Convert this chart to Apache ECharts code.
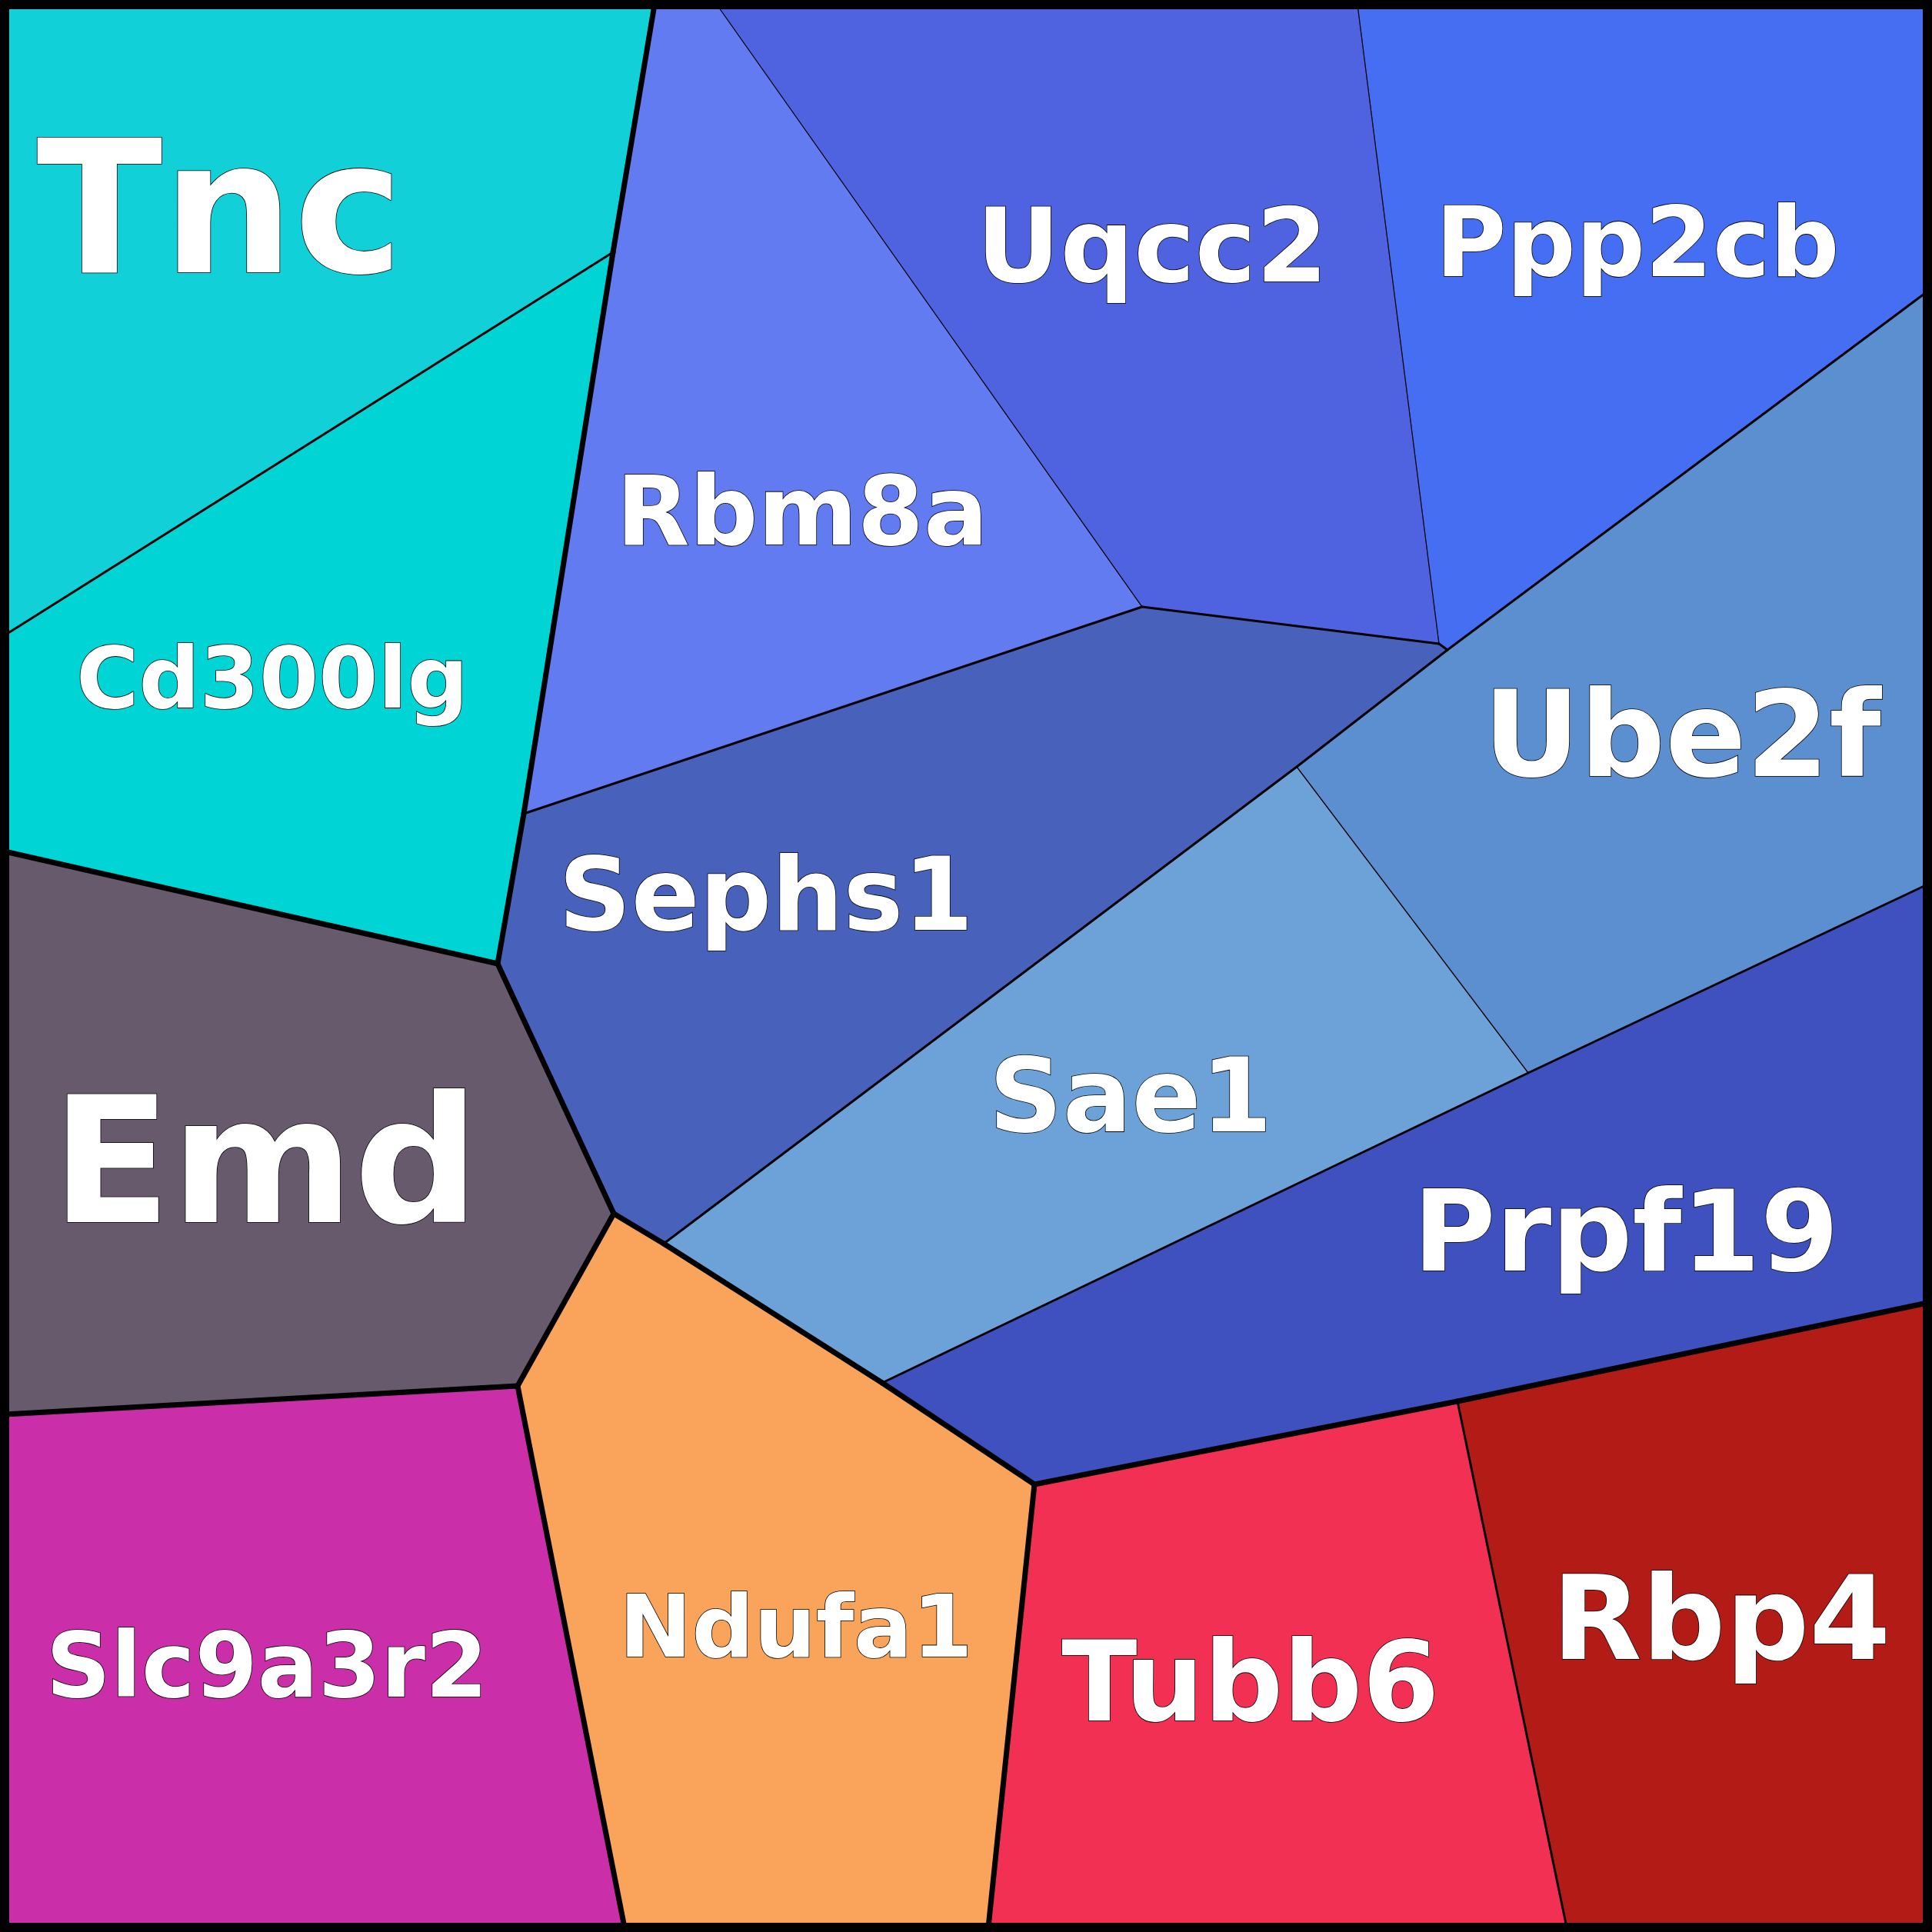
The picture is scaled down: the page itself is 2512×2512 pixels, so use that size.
<!DOCTYPE html>
<html><head><meta charset="utf-8">
<script src="https://cdn.jsdelivr.net/npm/echarts@6/dist/echarts.min.js"></script>
<style>html,body{margin:0;padding:0;background:#fff}#c{width:2512px;height:2512px}</style>
</head><body><div id="c"></div>
<script>
// ---- data ----
const cellNames = ['Tnc','Cd300lg','Rbm8a','Uqcc2','Ppp2cb','Sephs1','Ube2f','Sae1','Prpf19','Emd','Slc9a3r2','Ndufa1','Tubb6','Rbp4'];
const topGroup  = [0,0,1,1,1,1,1,1,1,2,3,4,5,5];
const subGroup  = [0,1,2,2,2,3,4,4,5,6,7,8,9,10];
// Voronoi vertices in data space (0..2512, y downward)
const points = {
  TL:[6,6], TR:[2506,6], BR:[2506,2506], BL:[6,2506],
  A:[851,6], B:[797,328], D:[6,826], E:[6,1107], F:[647,1253], G:[681,1058],
  H:[1485,789], I:[1871,837], J:[1882,845], K:[1765,6], L:[932,6],
  M:[2506,379], N:[2506,1150], O:[1686,997], P:[1987,1395], Q:[798,1578],
  R:[863,1617], S:[1147,1798], T:[1345,1930], U:[1895,1822], V:[2506,1694],
  W:[812,2506], X:[1285,2506], Y:[2037,2506], Z:[673,1802], AA:[6,1839]
};
const cellVertices = [
  ['TL','A','B','D'],
  ['D','B','G','F','E'],
  ['A','L','H','G','B'],
  ['L','K','I','H'],
  ['K','TR','M','J','I'],
  ['G','H','I','J','O','R','Q','F'],
  ['J','M','N','P','O'],
  ['O','P','S','R'],
  ['P','N','V','U','T','S'],
  ['E','F','Q','Z','AA'],
  ['AA','Z','W','BL'],
  ['Q','R','S','T','X','W','Z'],
  ['T','U','Y','X'],
  ['U','V','BR','Y']
];
const labelX = [286,354,1043,1498,2129,996,2187,1470,2114,345,347,1035,1626,2238];
const labelY = [268,880,663,318,314,1162,953,1423,1599,1507,2164,2113,2185,2102];

// ---- styles ----
const cellColors = ['#12D0D8','#00D4D4','#627BF0','#4F62E0','#466EF3','#4862BC','#5C8FD0','#6CA2D8','#3F51BF','#675A6C','#CB2EA9','#F9A45A','#F23054','#B31B16'];
const labelSizes = [240,111,124,134,126,131,155,133,147,228,117,113,144,152];
const edgeWidths = [1.3,3,7];

// ---- edges derived from shared polygon sides ----
const edgeMap = new Map();
cellVertices.forEach((vs, ci) => {
  vs.forEach((a, k) => {
    const b = vs[(k + 1) % vs.length];
    const key = a < b ? a + '|' + b : b + '|' + a;
    if (!edgeMap.has(key)) edgeMap.set(key, {a, b, owners: []});
    edgeMap.get(key).owners.push(ci);
  });
});
const edges = [];
edgeMap.forEach(e => {
  if (e.owners.length < 2) return;
  const c1 = e.owners[0], c2 = e.owners[1];
  const level = topGroup[c1] !== topGroup[c2] ? 2 : (subGroup[c1] !== subGroup[c2] ? 1 : 0);
  edges.push([points[e.a][0], points[e.a][1], points[e.b][0], points[e.b][1], level]);
});
edges.sort((p, q) => p[4] - q[4]);

const chart = echarts.init(document.getElementById('c'), null, {renderer: 'canvas'});
chart.setOption({
  animation: false,
  backgroundColor: '#ffffff',
  grid: {left: 0, right: 0, top: 0, bottom: 0},
  xAxis: {type: 'value', min: 0, max: 2512, show: false},
  yAxis: {type: 'value', min: 0, max: 2512, inverse: true, show: false},
  series: [
    {
      type: 'custom', clip: false, z: 1,
      data: cellNames.map((n, i) => ({name: n, value: [i, 0]})),
      renderItem: function (params, api) {
        const i = api.value(0);
        const pts = cellVertices[i].map(id => api.coord(points[id]));
        return {type: 'polygon', shape: {points: pts}, style: {fill: cellColors[i], stroke: cellColors[i], lineWidth: 0.5}};
      }
    },
    {
      type: 'custom', clip: false, z: 2,
      data: edges,
      renderItem: function (params, api) {
        const p1 = api.coord([api.value(0), api.value(1)]);
        const p2 = api.coord([api.value(2), api.value(3)]);
        const lv = api.value(4);
        return {type: 'line', shape: {x1: p1[0], y1: p1[1], x2: p2[0], y2: p2[1]},
          style: {stroke: '#000', lineWidth: edgeWidths[lv], lineCap: 'round'}};
      }
    },
    {
      type: 'custom', clip: false, z: 3,
      data: [[points.TL[0], points.TL[1], points.BR[0], points.BR[1]]],
      renderItem: function (params, api) {
        const p1 = api.coord([api.value(0), api.value(1)]);
        const p2 = api.coord([api.value(2), api.value(3)]);
        return {type: 'rect', shape: {x: p1[0], y: p1[1], width: p2[0] - p1[0], height: p2[1] - p1[1]},
          style: {fill: 'none', stroke: '#000', lineWidth: 12}};
      }
    },
    {
      type: 'custom', clip: false, z: 4,
      data: labelX.map((x, i) => [x, labelY[i], i]),
      renderItem: function (params, api) {
        const i = api.value(2);
        const p = api.coord([api.value(0), api.value(1)]);
        const fs = labelSizes[i];
        return {type: 'text', x: p[0], y: p[1] + 0.1 * fs,
          style: {text: cellNames[i], fill: '#ffffff', stroke: '#000000', lineWidth: 1.6,
            font: 'bold ' + fs + 'px "DejaVu Sans"',
            align: 'center', verticalAlign: 'middle', textAlign: 'center', textVerticalAlign: 'middle',
            shadowColor: 'rgba(0,0,0,0.55)', shadowOffsetX: 1.5, shadowOffsetY: 1.5, shadowBlur: 0}};
      }
    }
  ]
});
</script>
</body></html>
